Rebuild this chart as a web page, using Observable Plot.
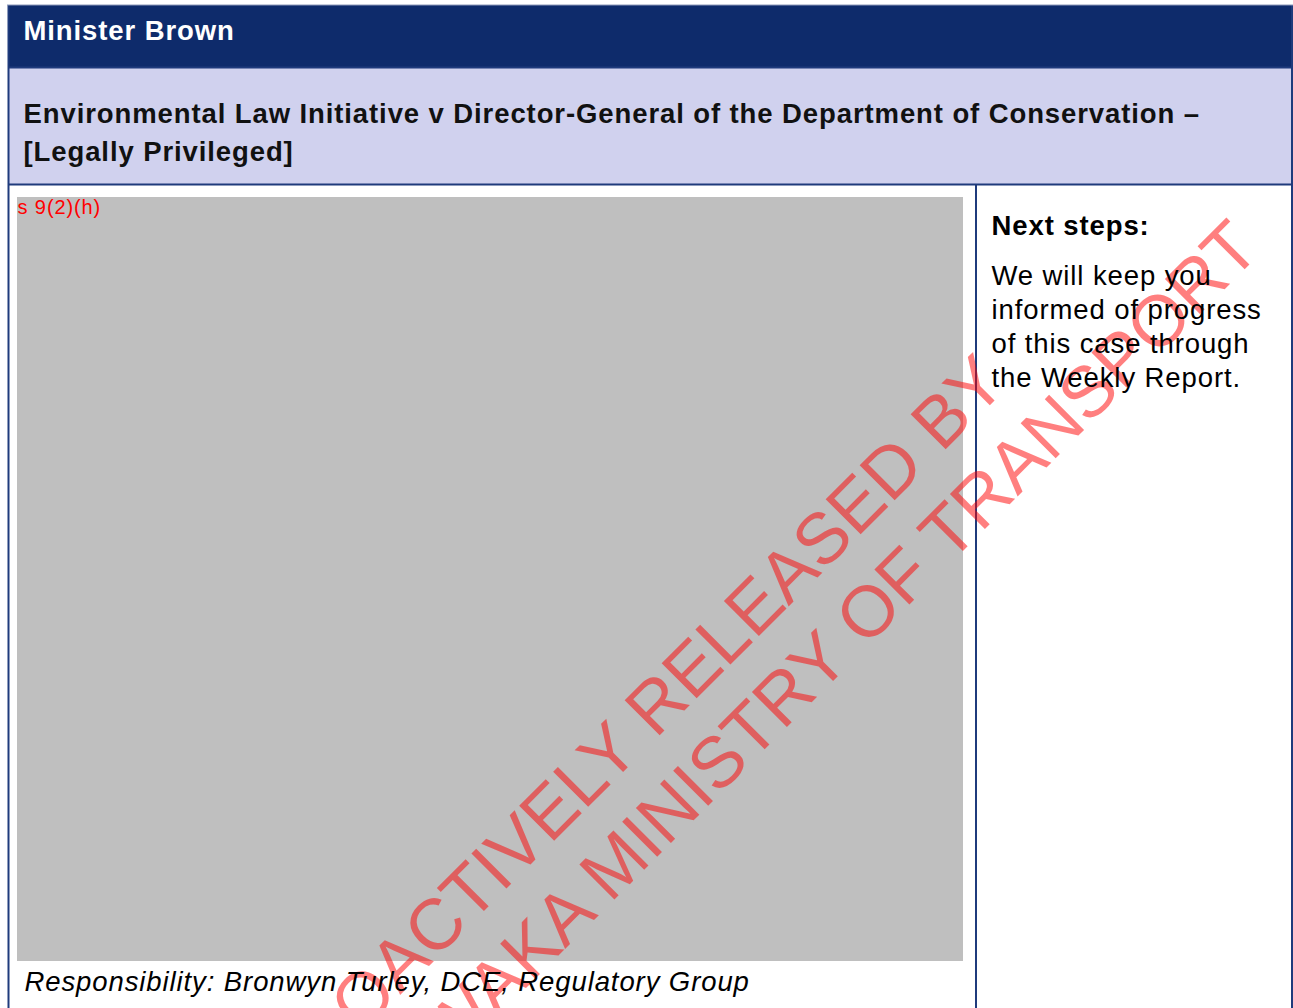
<!DOCTYPE html>
<html>
<head>
<meta charset="utf-8">
<script src="https://cdn.jsdelivr.net/npm/d3@7"></script>
<script src="https://cdn.jsdelivr.net/npm/@observablehq/plot@0.6"></script>
<style>
  html, body { margin: 0; padding: 0; background: #ffffff; }
  #chart svg { display: block; font-family: "Liberation Sans", Arial, sans-serif; }
  #chart svg text { letter-spacing: 0.9px; }
  #chart svg g[fill-opacity] text { letter-spacing: 0px; }
</style>
</head>
<body>
<div id="chart"></div>
<script>
// ---- content ----
const headerTitle = ["Minister Brown"];
const itemTitleLines = [
  "Environmental Law Initiative v Director-General of the Department of Conservation –",
  "[Legally Privileged]"
];
const redactionCodes = ["s 9(2)(h)"];
const nextStepsHeading = ["Next steps:"];
const nextStepsLines = ["We will keep you", "informed of progress", "of this case through", "the Weekly Report."];
const responsibilityLines = ["Responsibility: Bronwyn Turley, DCE, Regulatory Group"];
const watermarkLines = ["PROACTIVELY RELEASED BY", "TE MANATŪ WAKA MINISTRY OF TRANSPORT"];

// ---- layout (page pixel units) ----
const W = 1293, H = 1008;
const navy = "#0e2b6b", lavender = "#d0d1ee", border = "#1f3b7c", grey = "#bfbfbf";

const panels = [
  {x1: 8, x2: 1292, y1: 5, y2: 67, fill: navy},
  {x1: 8, x2: 1292, y1: 67, y2: 184, fill: lavender},
  {x1: 8, x2: 1292, y1: 184, y2: 1008, fill: "#ffffff"},
  {x1: 17, x2: 963, y1: 197, y2: 961, fill: grey}
];
const vLines = [
  {x: 8, y1: 5, y2: 1008},
  {x: 1291.5, y1: 5, y2: 1008},
  {x: 975.5, y1: 184, y2: 1008}
];
const hLines = [
  {y: 67, x1: 8, x2: 1292},
  {y: 184, x1: 8, x2: 1292}
];

const titleRows = itemTitleLines.map((t, i) => ({t, x: 23, y: 122 + i * 38}));
const nextRows = nextStepsLines.map((t, i) => ({t, x: 991, y: 284 + i * 34}));
const wmAnchors = [{x: 649, y: 745}, {x: 704, y: 809}];
const wmRows = watermarkLines.map((t, i) => ({t, ...wmAnchors[i]}));

const chart = Plot.plot({
  width: W,
  height: H,
  margin: 0,
  x: {domain: [0, W], range: [0, W], axis: null},
  y: {domain: [0, H], range: [0, H], axis: null},
  style: {background: "transparent", overflow: "hidden"},
  marks: [
    Plot.rect(panels, {x1: "x1", x2: "x2", y1: "y1", y2: "y2", fill: d => d.fill}),
    Plot.ruleX(vLines, {x: "x", y1: "y1", y2: "y2", stroke: border, strokeWidth: 2}),
    Plot.ruleY(hLines, {y: "y", x1: "x1", x2: "x2", stroke: border, strokeWidth: 2}),
    Plot.ruleY([{y: 4.5}], {y: "y", x1: 7, x2: 1293, stroke: "#8c98b8", strokeWidth: 1}),
    // watermark
    Plot.text(wmRows, {x: "x", y: "y", text: "t", rotate: -45, fontSize: 72, fill: "#ff0000",
      fillOpacity: 0.5, textAnchor: "middle", lineAnchor: "bottom"}),
    // header
    Plot.text(headerTitle, {x: 23, y: 39, text: d => d, fill: "#ffffff", fontSize: 27.5,
      fontWeight: "bold", textAnchor: "start", lineAnchor: "bottom"}),
    Plot.text(titleRows, {x: "x", y: "y", text: "t", fill: "#111111", fontSize: 27.5,
      fontWeight: "bold", textAnchor: "start", lineAnchor: "bottom"}),
    Plot.text(redactionCodes, {x: 17, y: 213.5, text: d => d, fill: "#ff0000", fontSize: 20,
      textAnchor: "start", lineAnchor: "bottom"}),
    Plot.text(nextStepsHeading, {x: 991, y: 234, text: d => d, fill: "#000000", fontSize: 27.5,
      fontWeight: "bold", textAnchor: "start", lineAnchor: "bottom"}),
    Plot.text(nextRows, {x: "x", y: "y", text: "t", fill: "#000000", fontSize: 27.5,
      textAnchor: "start", lineAnchor: "bottom"}),
    Plot.text(responsibilityLines, {x: 24, y: 990, text: d => d, fill: "#000000", fontSize: 27.5,
      fontStyle: "italic", textAnchor: "start", lineAnchor: "bottom"})
  ]
});
document.getElementById("chart").appendChild(chart);
</script>
</body>
</html>
